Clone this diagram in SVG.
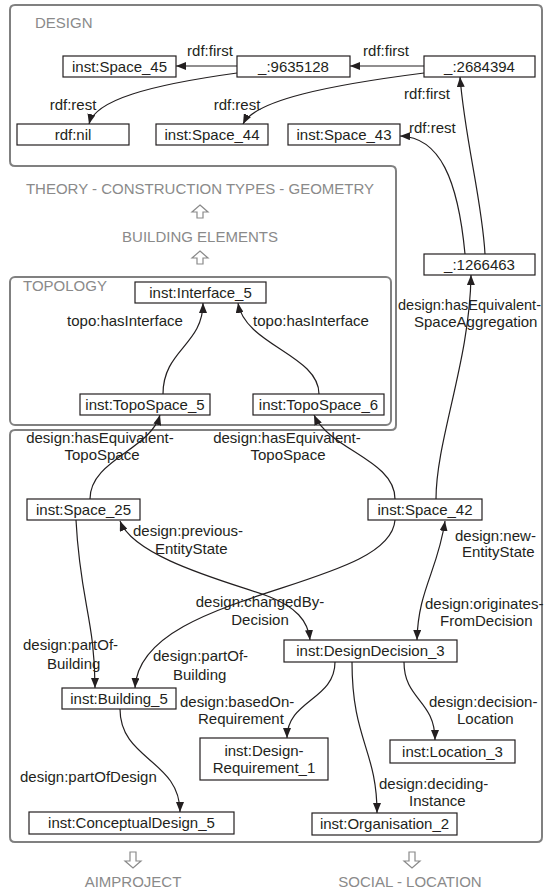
<svg xmlns="http://www.w3.org/2000/svg" width="544" height="893" viewBox="0 0 544 893">
<style>
text{font-family:"Liberation Sans",Arial,sans-serif;font-size:15px;fill:#231f20}
.g{fill:#8a8a8a}
.m{text-anchor:middle}
.frame{fill:none;stroke:#808080;stroke-width:2}
.node rect{fill:#fff;stroke:#231f20;stroke-width:1.2}
.edges path{fill:none;stroke:#231f20;stroke-width:1.2}
.hol{fill:#fff;stroke:#8a8a8a;stroke-width:1.2}
</style>
<defs>
<marker id="ah" viewBox="0 0 10 8" refX="10" refY="4" markerWidth="10" markerHeight="8" orient="auto-start-reverse" markerUnits="userSpaceOnUse"><path d="M0,0 L10,4 L0,8 z" fill="#231f20"/></marker>
</defs>
<rect width="544" height="893" fill="#fff"/>
<path class="frame" d="M15,5 H537 Q542,5 542,10 V837 Q542,842 537,842 H15 Q10,842 10,837 V435 Q10,430 15,430 H391 Q396,430 396,425 V171 Q396,166 391,166 H15 Q10,166 10,161 V10 Q10,5 15,5 Z"/>
<rect class="frame" x="10" y="277" width="381" height="148" rx="5"/>
<text class="g" x="35" y="28">DESIGN</text>
<text class="g m" x="200" y="194">THEORY - CONSTRUCTION TYPES - GEOMETRY</text>
<text class="g m" x="200" y="242">BUILDING ELEMENTS</text>
<text class="g" x="23" y="291">TOPOLOGY</text>
<text class="g m" x="133" y="887">AIMPROJECT</text>
<text class="g m" x="410" y="887">SOCIAL - LOCATION</text>
<path class="hol" d="M200,205 L208,212 L203,212 L203,218 L197,218 L197,212 L192,212 Z"/>
<path class="hol" d="M200,251 L208,258 L203,258 L203,264 L197,264 L197,258 L192,258 Z"/>
<path class="hol" d="M130,852 L136,852 L136,861 L141,861 L133,868 L125,861 L130,861 Z"/>
<path class="hol" d="M409,852 L415,852 L415,861 L420,861 L412,868 L404,861 L409,861 Z"/>
<g class="edges" id="connectors">
<path d="M237,66 H176" marker-end="url(#ah)"/>
<path d="M424,66 H350" marker-end="url(#ah)"/>
<path d="M237,73 C150,85 95,100 89,124" marker-end="url(#ah)"/>
<path d="M424,73 C330,85 255,100 243,124" marker-end="url(#ah)"/>
<path d="M485,254 C482,200 465,140 460,77" marker-end="url(#ah)"/>
<path d="M465,254 C458,180 440,137 400,136" marker-end="url(#ah)"/>
<path d="M436,499 C436,440 470,360 471,275" marker-end="url(#ah)"/>
<path d="M163,394 C163,350 203,345 203,303" marker-end="url(#ah)"/>
<path d="M319,394 C319,355 245,345 238,303" marker-end="url(#ah)"/>
<path d="M90,499 C90,460 150,450 160,415" marker-end="url(#ah)"/>
<path d="M395,499 C395,460 330,450 314,415" marker-end="url(#ah)"/>
<path d="M76,520 C80,600 95,620 95,688" marker-end="url(#ah)"/>
<path d="M395,520 C390,590 140,590 135,688" marker-end="url(#ah)"/>
<path d="M120,521 C135,560 240,585 270,597 C295,607 308,620 310,640" marker-start="url(#ah)" marker-end="url(#ah)"/>
<path d="M445,521 C438,570 418,590 417,640" marker-start="url(#ah)" marker-end="url(#ah)"/>
<path d="M120,709 C120,760 180,760 180,812" marker-end="url(#ah)"/>
<path d="M335,662 C335,700 287,700 287,738" marker-end="url(#ah)"/>
<path d="M352,662 C352,740 377,750 377,813" marker-end="url(#ah)"/>
<path d="M404,662 C404,700 435,700 435,740" marker-end="url(#ah)"/>
</g>
<g id="edge-labels">
<text class="m" x="210" y="56">rdf:first</text>
<text class="m" x="386" y="56">rdf:first</text>
<text class="m" x="73" y="110">rdf:rest</text>
<text class="m" x="237" y="110">rdf:rest</text>
<text class="m" x="427" y="99">rdf:first</text>
<text x="409" y="133">rdf:rest</text>
<text x="398" y="310" textLength="143" lengthAdjust="spacingAndGlyphs">design:hasEquivalent-</text>
<text x="414" y="327">SpaceAggregation</text>
<text class="m" x="125" y="326">topo:hasInterface</text>
<text class="m" x="311" y="326">topo:hasInterface</text>
<text class="m" x="100" y="443">design:hasEquivalent-</text>
<text class="m" x="102" y="460">TopoSpace</text>
<text class="m" x="287" y="443">design:hasEquivalent-</text>
<text class="m" x="288" y="460">TopoSpace</text>
<text x="133" y="536">design:previous-</text>
<text x="155" y="554">EntityState</text>
<text x="455" y="541">design:new-</text>
<text x="462" y="557">EntityState</text>
<text class="m" x="260" y="607">design:changedBy-</text>
<text class="m" x="260" y="625">Decision</text>
<text x="425" y="609">design:originates-</text>
<text x="440" y="626">FromDecision</text>
<text x="23" y="650">design:partOf-</text>
<text x="47" y="669">Building</text>
<text x="153" y="661">design:partOf-</text>
<text x="173" y="680">Building</text>
<text x="180" y="707">design:basedOn-</text>
<text x="198" y="724">Requirement</text>
<text x="429" y="707">design:decision-</text>
<text x="457" y="724">Location</text>
<text x="20" y="782">design:partOfDesign</text>
<text x="379" y="789">design:deciding-</text>
<text x="409" y="806">Instance</text>
</g>
<g id="n_space45" class="node"><rect x="63" y="56" width="113" height="21"/><text class="m" x="119.5" y="72">inst:Space_45</text></g>
<g id="n_9635128" class="node"><rect x="237" y="56" width="113" height="21"/><text class="m" x="293.5" y="72">_:9635128</text></g>
<g id="n_2684394" class="node"><rect x="424" y="56" width="111" height="21"/><text class="m" x="479.5" y="72">_:2684394</text></g>
<g id="n_nil" class="node"><rect x="17" y="124" width="112" height="21"/><text class="m" x="73" y="140">rdf:nil</text></g>
<g id="n_space44" class="node"><rect x="156" y="124" width="112" height="21"/><text class="m" x="212" y="140">inst:Space_44</text></g>
<g id="n_space43" class="node"><rect x="288" y="124" width="112" height="21"/><text class="m" x="344" y="140">inst:Space_43</text></g>
<g id="n_1266463" class="node"><rect x="424" y="254" width="111" height="21"/><text class="m" x="479.5" y="270">_:1266463</text></g>
<g id="n_interface5" class="node"><rect x="135" y="282" width="131" height="21"/><text class="m" x="200.5" y="298">inst:Interface_5</text></g>
<g id="n_topospace5" class="node"><rect x="80" y="394" width="130" height="21"/><text class="m" x="145" y="410">inst:TopoSpace_5</text></g>
<g id="n_topospace6" class="node"><rect x="253" y="394" width="131" height="21"/><text class="m" x="318.5" y="410">inst:TopoSpace_6</text></g>
<g id="n_space25" class="node"><rect x="27" y="499" width="113" height="21"/><text class="m" x="83.5" y="515">inst:Space_25</text></g>
<g id="n_space42" class="node"><rect x="368" y="499" width="114" height="21"/><text class="m" x="425" y="515">inst:Space_42</text></g>
<g id="n_decision3" class="node"><rect x="284" y="640" width="173" height="22"/><text class="m" x="370.5" y="656">inst:DesignDecision_3</text></g>
<g id="n_building5" class="node"><rect x="62" y="688" width="114" height="21"/><text class="m" x="119" y="704">inst:Building_5</text></g>
<g id="n_requirement1" class="node"><rect x="200" y="738" width="128" height="42"/><text class="m" x="264" y="756">inst:Design-</text><text class="m" x="264" y="773">Requirement_1</text></g>
<g id="n_location3" class="node"><rect x="390" y="740" width="125" height="23"/><text class="m" x="452.5" y="757">inst:Location_3</text></g>
<g id="n_conceptual5" class="node"><rect x="29" y="812" width="205" height="22"/><text class="m" x="131.5" y="828">inst:ConceptualDesign_5</text></g>
<g id="n_organisation2" class="node"><rect x="312" y="813" width="145" height="22"/><text class="m" x="384.5" y="829">inst:Organisation_2</text></g>
</svg>
